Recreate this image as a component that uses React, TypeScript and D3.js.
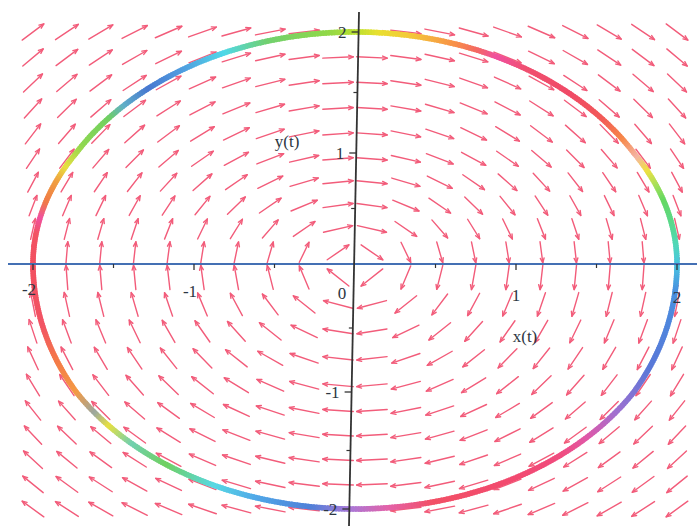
import React from "react";
import * as d3 from "d3";

// ---- data ----
const X_TICKS = [-2, -1, 0, 1, 2];
const X_TICK_LABELS = ["-2", "-1", "0", "1", "2"];
const Y_TICKS = [-2, -1, 1, 2];
const Y_TICK_LABELS = ["-2", "-1", "1", "2"];
const MINOR_TICKS = [-1.5, -0.5, 0.5, 1.5];
const FIELD_RANGE = [-2, 2];
const FIELD_GRID = 20;
const ARROW_LEN = 0.19; // data units
const ORBIT_RADIUS = 2;
// colour of the solution curve along its polar angle (degrees)
const COLOR_ANGLES = [
  -180, -166, -158, -150, -144, -140, -134, -126, -116, -108, -98, -91, -84, -76, -60, -50, -44,
  -36, -24, -6, 0, 5, 10, 17, 21, 25, 29, 34, 40, 48, 58, 64, 68, 72, 80, 86, 90, 95, 106, 114,
  122, 130, 136, 140, 148, 154, 158, 164, 168, 172, 180,
];
const COLOR_VALUES = [
  "#f25060", "#f25464", "#f47a48", "#f49a44", "#9aa8a0", "#e8e040", "#70d0b0", "#70d060", "#58d8e4",
  "#50a8e8", "#5080d8", "#a878d8", "#e462a8", "#f25066", "#f24a70", "#f04c80", "#e058a8",
  "#a070d0", "#5a78d8", "#4890e0", "#48c4e0", "#50d8b8", "#58d890", "#66d860", "#a8e058", "#f0e040",
  "#f4b4a4", "#f68848", "#f25a58", "#f04a66", "#f05070", "#f050a0", "#f46a60", "#f89048", "#f4c838",
  "#e8e030", "#b8e030", "#90d848", "#70d070", "#50d8e8", "#50a0e0", "#4878d0", "#60b0c8", "#70d060",
  "#90d850", "#e8e040", "#f0a040", "#f07848", "#f050a0", "#f25464", "#f25060",
];

const W = 697;
const H = 526;

export default function App() {
  const x = d3.scaleLinear().domain([-2, 2]).range([33, 677]);
  const y = d3.scaleLinear().domain([-2, -1, 0, 1, 2]).range([509, 392, 264, 153, 32]);

  // y-axis is slightly tilted in the scan
  const axTop = { px: 359, py: 12 };
  const axBot = { px: 349, py: H };
  const yAxisX = (py: number) => axTop.px + ((py - axTop.py) * (axBot.px - axTop.px)) / (axBot.py - axTop.py);
  const x0 = yAxisX(y(0));
  const xAxisY = y(0);

  const grid = d3.range(FIELD_GRID).map(
    (i) => FIELD_RANGE[0] + (i * (FIELD_RANGE[1] - FIELD_RANGE[0])) / (FIELD_GRID - 1)
  );

  const arrows: { x1: number; y1: number; x2: number; y2: number; h1: string; key: string }[] = [];
  grid.forEach((gx, i) =>
    grid.forEach((gy, j) => {
      const fx = gy;
      const fy = -gx;
      const n = Math.hypot(fx, fy);
      if (n === 0) return;
      const ux = (fx / n) * ARROW_LEN;
      const uy = (fy / n) * ARROW_LEN;
      const x1 = x(gx - ux / 2);
      const y1 = y(gy - uy / 2);
      const x2 = x(gx + ux / 2);
      const y2 = y(gy + uy / 2);
      const ang = Math.atan2(y2 - y1, x2 - x1);
      const hl = 5;
      const a = (22 * Math.PI) / 180;
      const bx1 = x2 - hl * Math.cos(ang - a);
      const by1 = y2 - hl * Math.sin(ang - a);
      const bx2 = x2 - hl * Math.cos(ang + a);
      const by2 = y2 - hl * Math.sin(ang + a);
      arrows.push({
        x1, y1, x2, y2,
        h1: `M${bx1},${by1}L${x2},${y2}L${bx2},${by2}`,
        key: `${i}-${j}`,
      });
    })
  );

  const color = d3
    .scaleLinear<string>()
    .domain(COLOR_ANGLES)
    .range(COLOR_VALUES)
    .interpolate(d3.interpolateRgb);

  const N = 720;
  const segs = d3.range(N).map((k) => {
    const t0 = -180 + (k * 360) / N;
    const t1 = t0 + 360 / N + 0.3;
    const r0 = (t0 * Math.PI) / 180;
    const r1 = (t1 * Math.PI) / 180;
    return {
      k,
      d: `M${x(ORBIT_RADIUS * Math.cos(r0))},${y(ORBIT_RADIUS * Math.sin(r0))}L${x(
        ORBIT_RADIUS * Math.cos(r1)
      )},${y(ORBIT_RADIUS * Math.sin(r1))}`,
      c: color(t0 + 180 / N),
    };
  });

  const font = "'Liberation Serif', 'DejaVu Serif', serif";
  const labelColor = "#2c3642";

  return (
    <svg width={W} height={H} style={{ position: "absolute", left: 0, top: 0, background: "#fff" }}>
      <rect width={W} height={H} fill="#fff" />
      <g stroke="#f25c7a" strokeWidth={1.4} fill="none" strokeLinecap="round" strokeLinejoin="round">
        {arrows.map((a) => (
          <g key={a.key}>
            <line x1={a.x1} y1={a.y1} x2={a.x2} y2={a.y2} />
            <path d={a.h1} />
          </g>
        ))}
      </g>
      <g fill="none" strokeWidth={5.5} strokeLinecap="butt">
        {segs.map((s) => (
          <path key={s.k} d={s.d} stroke={s.c} />
        ))}
      </g>
      {/* x axis */}
      <line x1={8} y1={xAxisY} x2={W} y2={xAxisY} stroke="#4470b4" strokeWidth={2} />
      {X_TICKS.filter((v) => v !== 0).map((v) => (
        <line key={"xt" + v} x1={x(v)} x2={x(v)} y1={xAxisY} y2={xAxisY + 6} stroke="#333" strokeWidth={1.3} />
      ))}
      {MINOR_TICKS.map((v) => (
        <line key={"xm" + v} x1={x(v)} x2={x(v)} y1={xAxisY} y2={xAxisY + 4} stroke="#333" strokeWidth={1.2} />
      ))}
      {/* y axis */}
      <line x1={axTop.px} y1={axTop.py} x2={axBot.px} y2={axBot.py} stroke="#333" strokeWidth={1.8} />
      {Y_TICKS.map((v) => (
        <line key={"yt" + v} x1={yAxisX(y(v)) - 7} x2={yAxisX(y(v))} y1={y(v)} y2={y(v)} stroke="#333" strokeWidth={1.3} />
      ))}
      {MINOR_TICKS.map((v) => (
        <line key={"ym" + v} x1={yAxisX(y(v)) - 4} x2={yAxisX(y(v))} y1={y(v)} y2={y(v)} stroke="#333" strokeWidth={1.2} />
      ))}
      <g fontFamily={font} fontSize={17} fill={labelColor}>
        {X_TICKS.map((v, i) => (
          <text
            key={"xl" + v}
            x={v === 0 ? x0 - 12 : x(v) - (v < 0 ? 4 : 0)}
            y={xAxisY + 35 + v * 2}
            textAnchor="middle"
          >
            {X_TICK_LABELS[i]}
          </text>
        ))}
        {Y_TICKS.map((v, i) => (
          <text key={"yl" + v} x={yAxisX(y(v)) - 12} y={y(v) + 6} textAnchor="end">
            {Y_TICK_LABELS[i]}
          </text>
        ))}
        <text x={x(1) + 9} y={y(-0.6) + 1} textAnchor="middle">x(t)</text>
        <text x={x0 - 67} y={y(1.05)} textAnchor="middle">y(t)</text>
      </g>
    </svg>
  );
}
